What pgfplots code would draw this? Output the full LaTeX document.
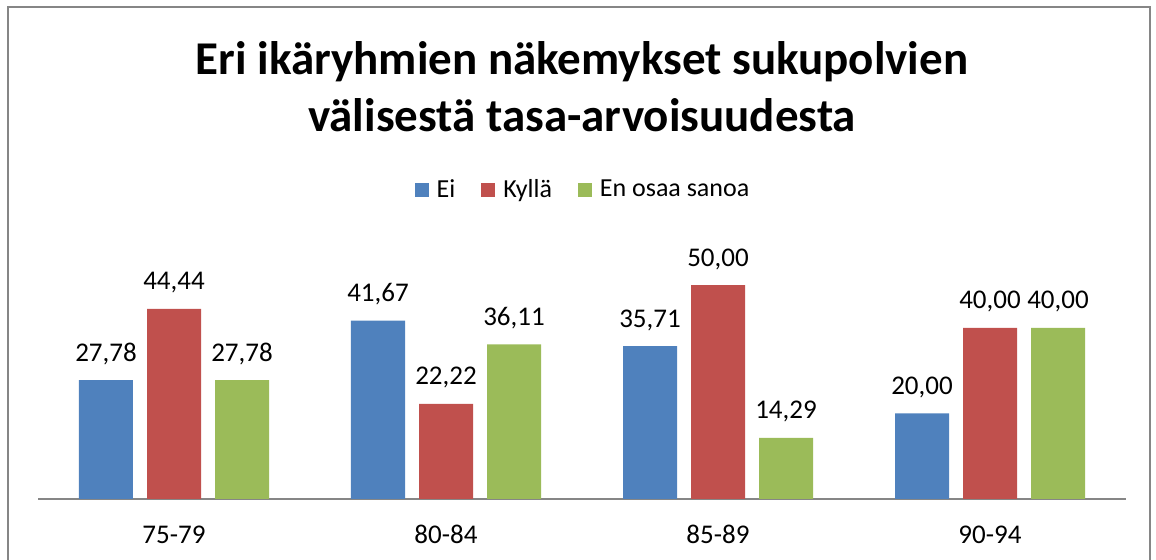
\documentclass[border=0pt]{standalone}
\usepackage{fontspec}
\setmainfont{Carlito}
\usepackage{pgfplots}
\pgfplotsset{compat=1.18}
\definecolor{eiblue}{RGB}{79,129,189}
\definecolor{kyllared}{RGB}{192,80,77}
\definecolor{eosgreen}{RGB}{155,187,89}
\definecolor{framegray}{RGB}{134,134,134}
\begin{document}
\begin{tikzpicture}
\useasboundingbox (-19pt,-30.5pt) rectangle (559pt,249.5pt);
\draw[framegray, line width=1pt] (-15pt,-40pt) -- (-15pt,246pt) -- (556pt,246pt) -- (556pt,-40pt);
\node[anchor=base, font=\fontsize{23.5}{28}\selectfont\bfseries] at (272pt,212pt) {Eri ikäryhmien näkemykset sukupolvien};
\node[anchor=base, font=\fontsize{23.5}{28}\selectfont\bfseries] at (272pt,183.5pt) {välisestä tasa-arvoisuudesta};
\begin{axis}[
    at={(0pt,0pt)}, anchor=south west,
    scale only axis, width=544pt, height=107pt,
    ymin=0, ymax=50, xmin=-0.5, xmax=3.5,
    ybar, bar width=27pt,
    axis y line=none, axis x line*=bottom,
    x axis line style={draw=framegray, line width=1pt, -},
    xtick={0,1,2,3}, xticklabels={75-79,80-84,85-89,90-94},
    major tick length=0pt,
    xticklabel style={font=\fontsize{13.5}{15}\selectfont, anchor=base, yshift=-22.5pt},
    clip=false,
    nodes near coords={\pgfmathprintnumber[fixed,fixed zerofill,precision=2,use comma,assume math mode=true]{\pgfplotspointmeta}},
    every node near coord/.append style={font=\fontsize{13.5}{15}\selectfont, black, anchor=base, yshift=9.5pt},
    legend style={at={(rel axis cs:0.5,1.444)}, anchor=center, draw=none, font=\fontsize{13}{15}\selectfont, inner sep=0pt, nodes={inner sep=0pt}},
    legend columns=-1,
    legend image code/.code={\fill[#1] (0pt,-3.5pt) rectangle (7pt,3.5pt);},
    /tikz/every odd column/.append style={column sep=4pt},
    /tikz/every even column/.append style={column sep=13pt},
]
\addplot[fill=eiblue, draw=none, bar shift=-34pt] coordinates {(0,27.78) (1,41.67) (2,35.71) (3,20.00)};
\addlegendentry{Ei}
\addplot[fill=kyllared, draw=none, bar shift=0pt] coordinates {(0,44.44) (1,22.22) (2,50.00) (3,40.00)};
\addlegendentry{Kyllä}
\addplot[fill=eosgreen, draw=none, bar shift=34pt] coordinates {(0,27.78) (1,36.11) (2,14.29) (3,40.00)};
\addlegendentry{En osaa sanoa}
\end{axis}
\end{tikzpicture}
\end{document}
